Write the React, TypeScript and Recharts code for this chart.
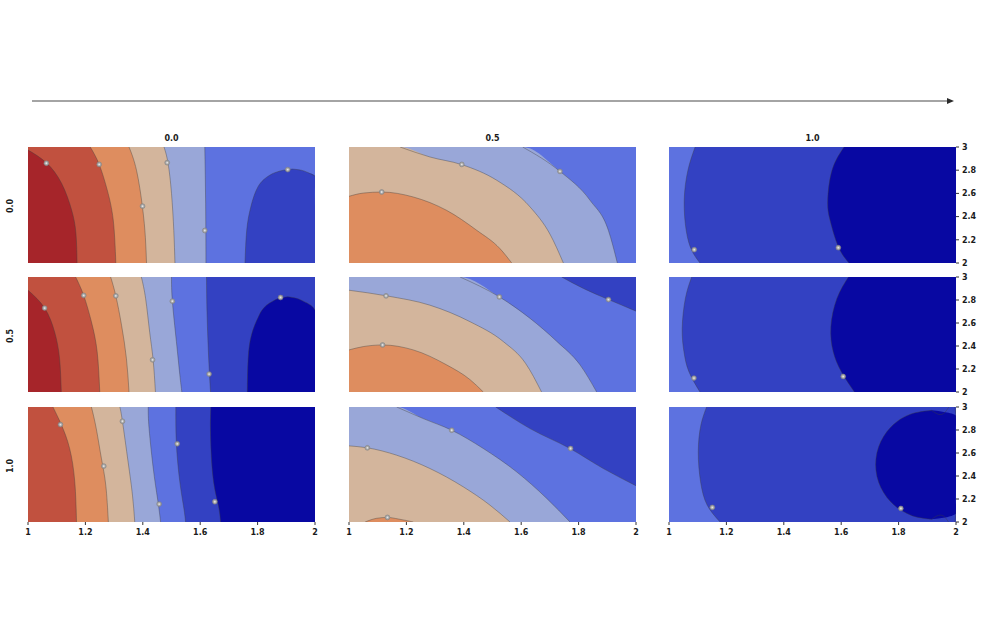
import React from "react";
import {
  Area,
  CartesianGrid,
  ComposedChart,
  Line,
  Scatter,
  XAxis,
  YAxis,
} from "recharts";

type Pt = {
  x?: number;
  y: number;
  lo?: number;
  hi?: number;
  edge?: boolean;
};

const columnTitles = ["0.0", "0.5", "1.0"];
const rowTitles = ["0.0", "0.5", "1.0"];
const xTicks = [1, 1.2, 1.4, 1.6, 1.8, 2];
const yTicks = [2, 2.2, 2.4, 2.6, 2.8, 3];

// row 0.0 / column 0.0 — contours as x = f(y)
const r00A: Pt[] = [{ y: 2.0, x: 1.171 }, { y: 2.256, x: 1.167 }, { y: 2.457, x: 1.152 }, { y: 2.687, x: 1.117 }, { y: 2.864, x: 1.064 }, { y: 2.974, x: 1.0 }];
const r00B: Pt[] = [{ y: 2.0, x: 1.306 }, { y: 2.37, x: 1.297 }, { y: 2.63, x: 1.276 }, { y: 2.85, x: 1.248 }, { y: 3.0, x: 1.217 }];
const r00C: Pt[] = [{ y: 2.0, x: 1.413 }, { y: 2.22, x: 1.409 }, { y: 2.48, x: 1.399 }, { y: 2.8, x: 1.378 }, { y: 3.0, x: 1.352 }];
const r00D: Pt[] = [{ y: 2.0, x: 1.512 }, { y: 2.28, x: 1.508 }, { y: 2.6, x: 1.5 }, { y: 2.86, x: 1.488 }, { y: 3.0, x: 1.474 }];
const r00E: Pt[] = [{ y: 2.0, x: 1.62 }, { y: 2.51, x: 1.619 }, { y: 3.0, x: 1.616 }];
const r00Blob: Pt[] = [
  { y: 2.0, lo: 1.756, hi: 2, edge: true },
  { y: 2.28, lo: 1.762, hi: 2, edge: true },
  { y: 2.48, lo: 1.776, hi: 2, edge: true },
  { y: 2.66, lo: 1.802, hi: 2, edge: true },
  { y: 2.75, lo: 1.838, hi: 2 },
  { y: 2.78, lo: 1.862, hi: 1.975 },
  { y: 2.8, lo: 1.89, hi: 1.952 },
  { y: 2.81, lo: 1.922, hi: 1.922 },
];
const r00Labels: Pt[] = [{ x: 1.064, y: 2.86 }, { x: 1.248, y: 2.85 }, { x: 1.485, y: 2.865 }, { x: 1.399, y: 2.49 }, { x: 1.616, y: 2.28 }, { x: 1.905, y: 2.805 }];

// row 0.5 / column 0.0
const r10A: Pt[] = [{ y: 2.0, x: 1.116 }, { y: 2.29, x: 1.11 }, { y: 2.52, x: 1.093 }, { y: 2.73, x: 1.058 }, { y: 2.885, x: 1.0 }];
const r10B: Pt[] = [{ y: 2.0, x: 1.25 }, { y: 2.35, x: 1.241 }, { y: 2.61, x: 1.221 }, { y: 2.84, x: 1.194 }, { y: 3.0, x: 1.166 }];
const r10C: Pt[] = [{ y: 2.0, x: 1.352 }, { y: 2.29, x: 1.343 }, { y: 2.58, x: 1.326 }, { y: 2.836, x: 1.306 }, { y: 3.0, x: 1.288 }];
const r10D: Pt[] = [{ y: 2.0, x: 1.444 }, { y: 2.28, x: 1.436 }, { y: 2.52, x: 1.424 }, { y: 2.81, x: 1.41 }, { y: 3.0, x: 1.395 }];
const r10E: Pt[] = [{ y: 2.0, x: 1.536 }, { y: 2.15, x: 1.529 }, { y: 2.44, x: 1.517 }, { y: 2.79, x: 1.503 }, { y: 3.0, x: 1.5 }];
const r10F: Pt[] = [{ y: 2.0, x: 1.636 }, { y: 2.27, x: 1.63 }, { y: 2.67, x: 1.624 }, { y: 3.0, x: 1.622 }];
const r10Blob: Pt[] = [
  { y: 2.0, lo: 1.764, hi: 2, edge: true },
  { y: 2.29, lo: 1.767, hi: 2, edge: true },
  { y: 2.5, lo: 1.779, hi: 2, edge: true },
  { y: 2.65, lo: 1.802, hi: 2, edge: true },
  { y: 2.71, lo: 1.815, hi: 2 },
  { y: 2.755, lo: 1.831, hi: 1.985 },
  { y: 2.79, lo: 1.853, hi: 1.959 },
  { y: 2.815, lo: 1.875, hi: 1.935 },
  { y: 2.828, lo: 1.905, hi: 1.905 },
];
const r10Labels: Pt[] = [{ x: 1.058, y: 2.73 }, { x: 1.194, y: 2.84 }, { x: 1.306, y: 2.836 }, { x: 1.503, y: 2.79 }, { x: 1.434, y: 2.28 }, { x: 1.631, y: 2.156 }, { x: 1.88, y: 2.822 }];

// row 1.0 / column 0.0
const r20A: Pt[] = [{ y: 2.0, x: 1.169 }, { y: 2.35, x: 1.163 }, { y: 2.64, x: 1.145 }, { y: 2.847, x: 1.116 }, { y: 3.0, x: 1.087 }];
const r20B: Pt[] = [{ y: 2.0, x: 1.28 }, { y: 2.32, x: 1.271 }, { y: 2.55, x: 1.256 }, { y: 2.81, x: 1.238 }, { y: 3.0, x: 1.221 }];
const r20C: Pt[] = [{ y: 2.0, x: 1.372 }, { y: 2.234, x: 1.364 }, { y: 2.52, x: 1.349 }, { y: 2.876, x: 1.329 }, { y: 3.0, x: 1.32 }];
const r20D: Pt[] = [{ y: 2.0, x: 1.462 }, { y: 2.176, x: 1.453 }, { y: 2.436, x: 1.438 }, { y: 2.81, x: 1.422 }, { y: 3.0, x: 1.419 }];
const r20E: Pt[] = [{ y: 2.0, x: 1.549 }, { y: 2.12, x: 1.543 }, { y: 2.35, x: 1.529 }, { y: 2.68, x: 1.517 }, { y: 3.0, x: 1.515 }];
const r20F: Pt[] = [{ y: 2.0, x: 1.671 }, { y: 2.147, x: 1.663 }, { y: 2.38, x: 1.645 }, { y: 2.754, x: 1.636 }, { y: 3.0, x: 1.637 }];
const r20Labels: Pt[] = [{ x: 1.113, y: 2.847 }, { x: 1.264, y: 2.486 }, { x: 1.329, y: 2.876 }, { x: 1.52, y: 2.68 }, { x: 1.457, y: 2.156 }, { x: 1.651, y: 2.176 }];

// column 0.5 — contours as y = g(x)
const r01Arc1: Pt[] = [{ x: 1.605, y: 3 }, { x: 1.735, y: 2.79 }, { x: 1.84, y: 2.54 }, { x: 1.904, y: 2.28 }, { x: 1.935, y: 2.0 }];
const r01Arc2: Pt[] = [{ x: 1.178, y: 3 }, { x: 1.282, y: 2.914 }, { x: 1.393, y: 2.848 }, { x: 1.515, y: 2.713 }, { x: 1.631, y: 2.483 }, { x: 1.7, y: 2.25 }, { x: 1.747, y: 2.0 }];
const r01Arc3: Pt[] = [{ x: 1.0, y: 2.575 }, { x: 1.05, y: 2.603 }, { x: 1.114, y: 2.612 }, { x: 1.224, y: 2.569 }, { x: 1.34, y: 2.454 }, { x: 1.445, y: 2.282 }, { x: 1.526, y: 2.124 }, { x: 1.567, y: 2.0 }];
const r01Labels: Pt[] = [{ x: 1.393, y: 2.85 }, { x: 1.735, y: 2.79 }, { x: 1.114, y: 2.612 }];

const r11Arc1: Pt[] = [{ x: 1.741, y: 3 }, { x: 1.817, y: 2.9 }, { x: 1.904, y: 2.804 }, { x: 2.0, y: 2.703 }];
const r11Arc2: Pt[] = [{ x: 1.387, y: 3 }, { x: 1.524, y: 2.827 }, { x: 1.631, y: 2.64 }, { x: 1.724, y: 2.44 }, { x: 1.805, y: 2.236 }, { x: 1.863, y: 2.0 }];
const r11Arc3: Pt[] = [{ x: 1.0, y: 2.885 }, { x: 1.131, y: 2.836 }, { x: 1.282, y: 2.755 }, { x: 1.422, y: 2.611 }, { x: 1.538, y: 2.438 }, { x: 1.615, y: 2.25 }, { x: 1.671, y: 2.0 }];
const r11Arc4: Pt[] = [{ x: 1.0, y: 2.366 }, { x: 1.05, y: 2.395 }, { x: 1.117, y: 2.409 }, { x: 1.224, y: 2.366 }, { x: 1.34, y: 2.236 }, { x: 1.422, y: 2.107 }, { x: 1.468, y: 2.0 }];
const r11Labels: Pt[] = [{ x: 1.129, y: 2.836 }, { x: 1.524, y: 2.827 }, { x: 1.904, y: 2.804 }, { x: 1.117, y: 2.409 }];

const r21Arc1: Pt[] = [{ x: 1.511, y: 3 }, { x: 1.631, y: 2.812 }, { x: 1.77, y: 2.639 }, { x: 1.886, y: 2.465 }, { x: 2.0, y: 2.315 }];
const r21Arc2: Pt[] = [{ x: 1.166, y: 3 }, { x: 1.259, y: 2.899 }, { x: 1.358, y: 2.798 }, { x: 1.468, y: 2.639 }, { x: 1.584, y: 2.436 }, { x: 1.689, y: 2.205 }, { x: 1.77, y: 2.0 }];
const r21Arc3: Pt[] = [{ x: 1.0, y: 2.662 }, { x: 1.064, y: 2.645 }, { x: 1.166, y: 2.581 }, { x: 1.282, y: 2.465 }, { x: 1.398, y: 2.306 }, { x: 1.491, y: 2.147 }, { x: 1.561, y: 2.0 }];
const r21Arc4: Pt[] = [{ x: 1.056, y: 2.0 }, { x: 1.096, y: 2.032 }, { x: 1.134, y: 2.04 }, { x: 1.172, y: 2.026 }, { x: 1.224, y: 2.0 }];
const r21Labels: Pt[] = [{ x: 1.358, y: 2.798 }, { x: 1.772, y: 2.639 }, { x: 1.064, y: 2.645 }, { x: 1.134, y: 2.04 }];

// column 1.0 — contours as x = f(y)
const r02Arc1: Pt[] = [{ y: 2.0, x: 1.108 }, { y: 2.11, x: 1.079 }, { y: 2.28, x: 1.06 }, { y: 2.54, x: 1.053 }, { y: 2.8, x: 1.066 }, { y: 3.0, x: 1.091 }];
const r02Arc2: Pt[] = [{ y: 2.0, x: 1.627 }, { y: 2.14, x: 1.59 }, { y: 2.37, x: 1.561 }, { y: 2.54, x: 1.553 }, { y: 2.8, x: 1.568 }, { y: 3.0, x: 1.61 }];
const r02Labels: Pt[] = [{ x: 1.088, y: 2.115 }, { x: 1.59, y: 2.132 }];

const r12Arc1: Pt[] = [{ y: 2.0, x: 1.108 }, { y: 2.179, x: 1.069 }, { y: 2.352, x: 1.052 }, { y: 2.553, x: 1.046 }, { y: 2.813, x: 1.057 }, { y: 3.0, x: 1.079 }];
const r12Arc2: Pt[] = [{ y: 2.0, x: 1.646 }, { y: 2.179, x: 1.6 }, { y: 2.352, x: 1.572 }, { y: 2.568, x: 1.564 }, { y: 2.813, x: 1.585 }, { y: 3.0, x: 1.625 }];
const r12Labels: Pt[] = [{ x: 1.087, y: 2.121 }, { x: 1.607, y: 2.135 }];

const r22Arc1: Pt[] = [{ y: 2.0, x: 1.178 }, { y: 2.147, x: 1.133 }, { y: 2.35, x: 1.11 }, { y: 2.61, x: 1.102 }, { y: 2.841, x: 1.111 }, { y: 3.0, x: 1.131 }];
const r22Circle: Pt[] = [
  { y: 2.023, lo: 1.915, hi: 1.915 },
  { y: 2.04, lo: 1.868, hi: 1.962 },
  { y: 2.075, lo: 1.829, hi: 2 },
  { y: 2.15, lo: 1.783, hi: 2, edge: true },
  { y: 2.3, lo: 1.738, hi: 2, edge: true },
  { y: 2.5, lo: 1.72, hi: 2, edge: true },
  { y: 2.7, lo: 1.738, hi: 2, edge: true },
  { y: 2.85, lo: 1.783, hi: 2, edge: true },
  { y: 2.925, lo: 1.829, hi: 2 },
  { y: 2.955, lo: 1.868, hi: 1.962 },
  { y: 2.971, lo: 1.915, hi: 1.915 },
];
const r22Labels: Pt[] = [{ x: 1.151, y: 2.127 }, { x: 1.808, y: 2.118 }];

const palette = {
  darkRed: "#a6252a",
  red: "#c1513f",
  orange: "#de8d5f",
  beige: "#d3b59c",
  lightBlue: "#99a7d8",
  medBlue: "#5d72e0",
  darkBlue: "#3341c2",
  darkest: "#0808a2",
};

const colX = [28, 349, 669];
const rowY = [147, 277, 407];
const rowH = [116, 115, 115];
const panelW = 287;
const font = "'DejaVu Sans', Verdana, sans-serif";

const leftOf = (d: Pt) => [1, d.x];
const rightOf = (d: Pt) => [d.x, 2];
const between = (d: Pt) => [d.lo, d.hi];
const below = (d: Pt) => [2, d.y];
const above = (d: Pt) => [d.y, 3];
const hiSide = (d: Pt) => (d.edge ? null : d.hi);
const fromCorner = (arc: Pt[]) => [{ x: 1, y: 3 }, ...arc];

type Layer = { data: Pt[]; fill: string; range: (d: Pt) => any };
type Contour = { data: Pt[]; key: string | ((d: Pt) => any) };

type PanelSpec = {
  row: number;
  col: number;
  layout: "horizontal" | "vertical";
  background: string;
  layers: Layer[];
  contours: Contour[];
  labels: Pt[];
};

const xContours = (arcs: Pt[][]): Contour[] => arcs.map((a) => ({ data: a, key: "x" }));
const yContours = (arcs: Pt[][]): Contour[] => arcs.map((a) => ({ data: a, key: "y" }));

const panels: PanelSpec[] = [
  {
    row: 0, col: 0, layout: "vertical", background: palette.medBlue,
    layers: [
      { data: r00E, fill: palette.lightBlue, range: leftOf },
      { data: r00D, fill: palette.beige, range: leftOf },
      { data: r00C, fill: palette.orange, range: leftOf },
      { data: r00B, fill: palette.red, range: leftOf },
      { data: r00A, fill: palette.darkRed, range: leftOf },
      { data: r00Blob, fill: palette.darkBlue, range: between },
    ],
    contours: [...xContours([r00A, r00B, r00C, r00D, r00E]), { data: r00Blob, key: "lo" }, { data: r00Blob, key: hiSide }],
    labels: r00Labels,
  },
  {
    row: 1, col: 0, layout: "vertical", background: palette.darkBlue,
    layers: [
      { data: r10F, fill: palette.medBlue, range: leftOf },
      { data: r10E, fill: palette.lightBlue, range: leftOf },
      { data: r10D, fill: palette.beige, range: leftOf },
      { data: r10C, fill: palette.orange, range: leftOf },
      { data: r10B, fill: palette.red, range: leftOf },
      { data: r10A, fill: palette.darkRed, range: leftOf },
      { data: r10Blob, fill: palette.darkest, range: between },
    ],
    contours: [...xContours([r10A, r10B, r10C, r10D, r10E, r10F]), { data: r10Blob, key: "lo" }, { data: r10Blob, key: hiSide }],
    labels: r10Labels,
  },
  {
    row: 2, col: 0, layout: "vertical", background: palette.darkest,
    layers: [
      { data: r20F, fill: palette.darkBlue, range: leftOf },
      { data: r20E, fill: palette.medBlue, range: leftOf },
      { data: r20D, fill: palette.lightBlue, range: leftOf },
      { data: r20C, fill: palette.beige, range: leftOf },
      { data: r20B, fill: palette.orange, range: leftOf },
      { data: r20A, fill: palette.red, range: leftOf },
    ],
    contours: xContours([r20A, r20B, r20C, r20D, r20E, r20F]),
    labels: r20Labels,
  },
  {
    row: 0, col: 1, layout: "horizontal", background: palette.medBlue,
    layers: [
      { data: fromCorner(r01Arc1), fill: palette.lightBlue, range: below },
      { data: fromCorner(r01Arc2), fill: palette.beige, range: below },
      { data: r01Arc3, fill: palette.orange, range: below },
    ],
    contours: yContours([r01Arc1, r01Arc2, r01Arc3]),
    labels: r01Labels,
  },
  {
    row: 1, col: 1, layout: "horizontal", background: palette.medBlue,
    layers: [
      { data: r11Arc1, fill: palette.darkBlue, range: above },
      { data: fromCorner(r11Arc2), fill: palette.lightBlue, range: below },
      { data: r11Arc3, fill: palette.beige, range: below },
      { data: r11Arc4, fill: palette.orange, range: below },
    ],
    contours: yContours([r11Arc1, r11Arc2, r11Arc3, r11Arc4]),
    labels: r11Labels,
  },
  {
    row: 2, col: 1, layout: "horizontal", background: palette.medBlue,
    layers: [
      { data: r21Arc1, fill: palette.darkBlue, range: above },
      { data: fromCorner(r21Arc2), fill: palette.lightBlue, range: below },
      { data: r21Arc3, fill: palette.beige, range: below },
      { data: r21Arc4, fill: palette.orange, range: below },
    ],
    contours: yContours([r21Arc1, r21Arc2, r21Arc3, r21Arc4]),
    labels: r21Labels,
  },
  {
    row: 0, col: 2, layout: "vertical", background: palette.medBlue,
    layers: [
      { data: r02Arc1, fill: palette.darkBlue, range: rightOf },
      { data: r02Arc2, fill: palette.darkest, range: rightOf },
    ],
    contours: xContours([r02Arc1, r02Arc2]),
    labels: r02Labels,
  },
  {
    row: 1, col: 2, layout: "vertical", background: palette.medBlue,
    layers: [
      { data: r12Arc1, fill: palette.darkBlue, range: rightOf },
      { data: r12Arc2, fill: palette.darkest, range: rightOf },
    ],
    contours: xContours([r12Arc1, r12Arc2]),
    labels: r12Labels,
  },
  {
    row: 2, col: 2, layout: "vertical", background: palette.medBlue,
    layers: [
      { data: r22Arc1, fill: palette.darkBlue, range: rightOf },
      { data: r22Circle, fill: palette.darkest, range: between },
    ],
    contours: [...xContours([r22Arc1]), { data: r22Circle, key: "lo" }, { data: r22Circle, key: hiSide }],
    labels: r22Labels,
  },
];

const tickStyle = {
  fill: "#1b1b1b",
  fontSize: 8,
  fontWeight: 700,
  fontFamily: font,
};

function LabelMark(props: any) {
  const { cx, cy } = props;
  if (cx == null || cy == null) return null;
  return (
    <g>
      <circle cx={cx} cy={cy} r={2.4} fill="#a9a9a9" stroke="#7d7d7d" strokeWidth={0.6} />
      <circle cx={cx} cy={cy} r={0.9} fill="#e4e4e4" />
    </g>
  );
}

function Panel({ spec }: { spec: PanelSpec }) {
  const showX = spec.row === 2;
  const showY = spec.col === 2;
  const margin = { top: 6, right: 10, bottom: 6, left: 10 };
  const width = panelW + 20 + (showY ? 30 : 0);
  const height = rowH[spec.row] + 12 + (showX ? 18 : 0);
  // curves along y (vertical layout) are smoothed as free splines
  const curve = spec.layout === "vertical" ? "natural" : "monotone";

  return (
    <div
      style={{
        position: "absolute",
        left: colX[spec.col] - 10,
        top: rowY[spec.row] - 6,
      }}
    >
      <ComposedChart width={width} height={height} layout={spec.layout} margin={margin}>
        <CartesianGrid
          fill={spec.background}
          fillOpacity={1}
          horizontal={false}
          vertical={false}
          stroke="none"
        />
        <XAxis
          type="number"
          dataKey="x"
          domain={[1, 2]}
          allowDataOverflow
          ticks={xTicks}
          interval={0}
          hide={!showX}
          height={18}
          axisLine={false}
          tickSize={3}
          tickMargin={4}
          tickLine={{ stroke: "#333" }}
          tick={tickStyle}
        />
        {/* in the vertical layout the value axis runs top-down, so flip it */}
        <YAxis
          type="number"
          dataKey="y"
          orientation="right"
          domain={[2, 3]}
          reversed={spec.layout === "vertical"}
          allowDataOverflow
          ticks={yTicks}
          interval={0}
          hide={!showY}
          width={30}
          axisLine={false}
          tickSize={3}
          tickMargin={3}
          tickLine={{ stroke: "#333" }}
          tick={{ ...tickStyle, textAnchor: "start" }}
        />
        {spec.layers.map((layer, i) => (
          <Area
            key={`layer-${i}`}
            data={layer.data}
            dataKey={layer.range}
            type={curve}
            fill={layer.fill}
            fillOpacity={1}
            stroke="none"
            dot={false}
            activeDot={false}
            isAnimationActive={false}
          />
        ))}
        {spec.contours.map((c, i) => (
          <Line
            key={`contour-${i}`}
            data={c.data}
            dataKey={c.key}
            type={curve}
            stroke="#3d3d3d"
            strokeOpacity={0.65}
            strokeWidth={0.6}
            dot={false}
            activeDot={false}
            isAnimationActive={false}
          />
        ))}
        <Scatter
          data={spec.labels}
          dataKey="y"
          shape={<LabelMark />}
          isAnimationActive={false}
        />
      </ComposedChart>
    </div>
  );
}

export default function App() {
  return (
    <div
      style={{
        position: "absolute",
        left: 0,
        top: 0,
        width: 985,
        height: 640,
        background: "#ffffff",
        fontFamily: font,
      }}
    >
      <svg
        width={985}
        height={20}
        style={{ position: "absolute", left: 0, top: 91 }}
      >
        <line x1={32} y1={10} x2={950} y2={10} stroke="#4a4a4a" strokeWidth={1.2} />
        <polygon points="947,7 954,10 947,13" fill="#2a2a2a" />
      </svg>

      {columnTitles.map((t, i) => (
        <div
          key={`col-${t}`}
          style={{
            position: "absolute",
            left: colX[i],
            top: 133,
            width: panelW,
            lineHeight: "12px",
            textAlign: "center",
            fontSize: 8,
            fontWeight: 700,
            color: "#1b1b1b",
          }}
        >
          {t}
        </div>
      ))}

      {rowTitles.map((t, i) => (
        <div
          key={`row-${t}`}
          style={{
            position: "absolute",
            left: -9,
            top: rowY[i] + rowH[i] / 2 - 5,
            width: 40,
            height: 12,
            lineHeight: "12px",
            textAlign: "center",
            fontSize: 8,
            fontWeight: 700,
            color: "#1b1b1b",
            transform: "rotate(-90deg)",
          }}
        >
          {t}
        </div>
      ))}

      {panels.map((p) => (
        <Panel key={`${p.row}-${p.col}`} spec={p} />
      ))}
    </div>
  );
}
